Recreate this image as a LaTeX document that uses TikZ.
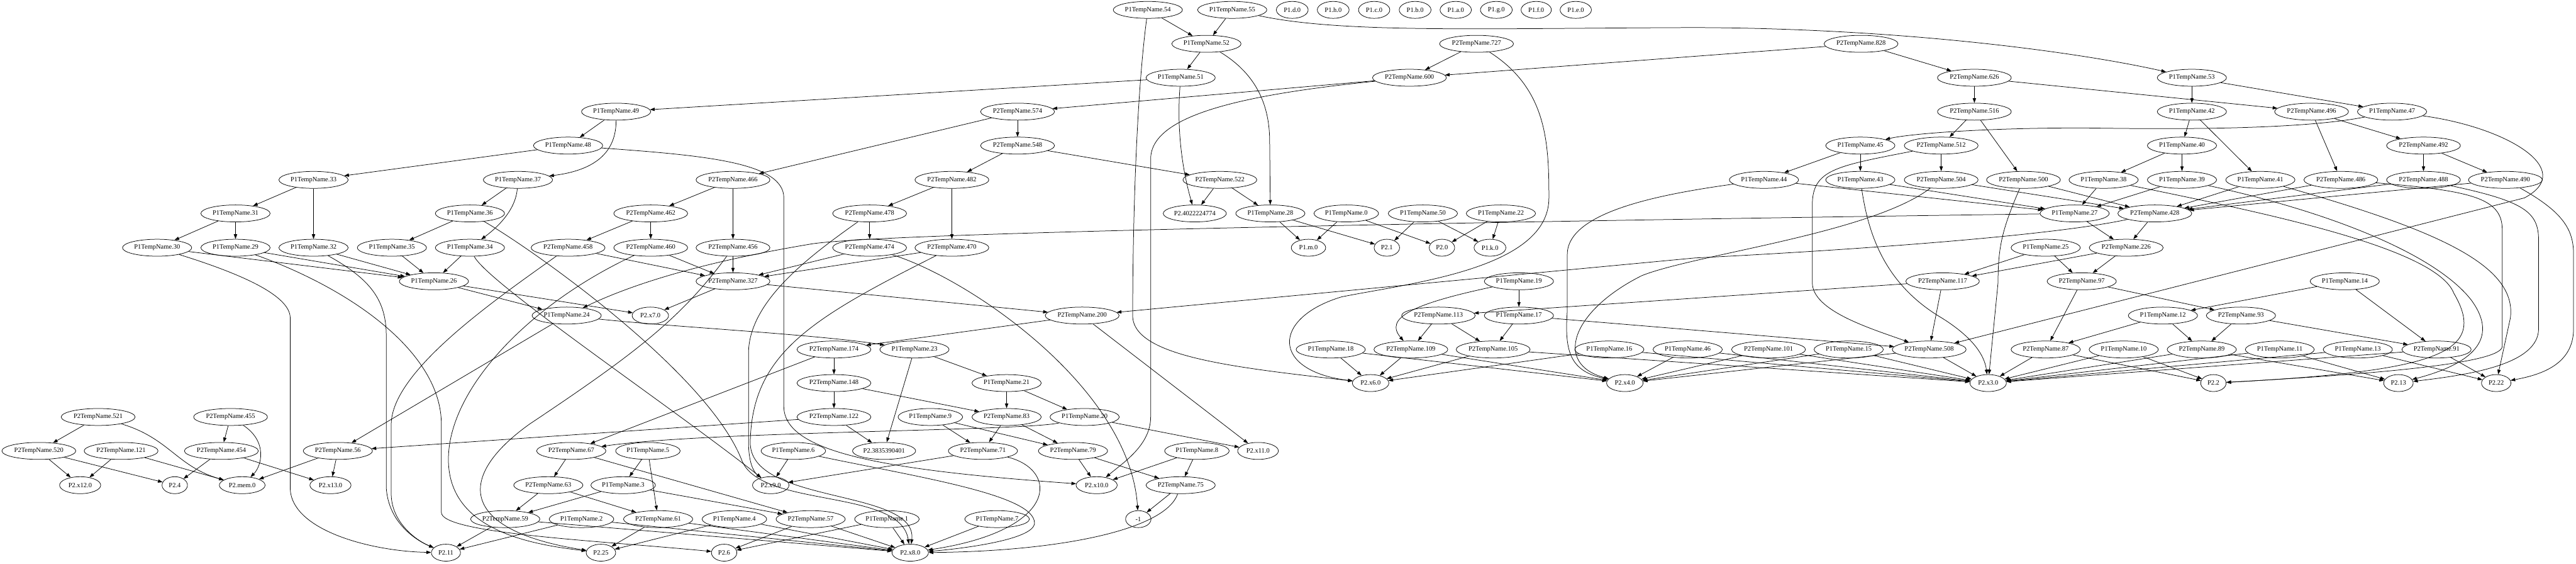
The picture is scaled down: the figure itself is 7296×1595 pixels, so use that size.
\documentclass[tikz,border=0pt]{standalone}
\usepackage{fontspec}
\setmainfont{Liberation Serif}
\usetikzlibrary{arrows.meta, shapes.geometric}
\newcommand{\namefont}{\fontsize{14}{16}\selectfont}
\tikzset{
  tnode/.style={draw, ellipse, minimum width=54pt, minimum height=36pt, inner xsep=3.3pt, inner ysep=0pt, font=\namefont},
  leaf/.style={tnode, inner xsep=6pt},
}
\begin{document}
\begin{tikzpicture}[x=0.75pt, y=-0.75pt, >={Triangle[length=10pt,width=7pt]}, line width=1pt, line join=bevel]
\useasboundingbox (0,0) rectangle (7296,1595);
%% rank 1
\node (t1_54) at (3251,28) [tnode] {P1TempName.54};
\node (t1_55) at (3490,28) [tnode] {P1TempName.55};
\node (p1_d) at (3660,28) [leaf] {P1.d.0};
\node (p1_h) at (3776,28) [leaf] {P1.h.0};
\node (p1_c) at (3892,28) [leaf] {P1.c.0};
\node (p1_b) at (4008,28) [leaf] {P1.b.0};
\node (p1_a) at (4123,28) [leaf] {P1.a.0};
\node (p1_g) at (4238,28) [leaf] {P1.g.0};
\node (p1_f) at (4351,28) [leaf] {P1.f.0};
\node (p1_e) at (4463,28) [leaf] {P1.e.0};
%% rank 2
\node (t1_52) at (3417,124) [tnode] {P1TempName.52};
\node (t2_727) at (4182,124) [tnode] {P2TempName.727};
\node (t2_828) at (5271,124) [tnode] {P2TempName.828};
%% rank 3
\node (t1_51) at (3344,220) [tnode] {P1TempName.51};
\node (t2_600) at (3992,220) [tnode] {P2TempName.600};
\node (t2_626) at (5592,220) [tnode] {P2TempName.626};
\node (t1_53) at (6208,220) [tnode] {P1TempName.53};
%% rank 4
\node (t1_49) at (1745,316) [tnode] {P1TempName.49};
\node (t2_574) at (2882,316) [tnode] {P2TempName.574};
\node (t2_516) at (5592,316) [tnode] {P2TempName.516};
\node (t1_42) at (6208,316) [tnode] {P1TempName.42};
\node (t2_496) at (6547,316) [tnode] {P2TempName.496};
\node (t1_47) at (6775,316) [tnode] {P1TempName.47};
%% rank 5
\node (t1_48) at (1609,412) [tnode] {P1TempName.48};
\node (t2_548) at (2882,412) [tnode] {P2TempName.548};
\node (t1_45) at (5269,412) [tnode] {P1TempName.45};
\node (t2_512) at (5498,412) [tnode] {P2TempName.512};
\node (t1_40) at (6180,412) [tnode] {P1TempName.40};
\node (t2_492) at (6864,412) [tnode] {P2TempName.492};
%% rank 6
\node (t1_33) at (888,509) [tnode] {P1TempName.33};
\node (t1_37) at (1467,509) [tnode] {P1TempName.37};
\node (t2_466) at (2076,509) [tnode] {P2TempName.466};
\node (t2_482) at (2696,509) [tnode] {P2TempName.482};
\node (t2_522) at (3455,509) [tnode] {P2TempName.522};
\node (t1_44) at (4996,509) [tnode] {P1TempName.44};
\node (t1_43) at (5269,509) [tnode] {P1TempName.43};
\node (t2_504) at (5498,509) [tnode] {P2TempName.504};
\node (t2_500) at (5731,509) [tnode] {P2TempName.500};
\node (t1_38) at (5958,509) [tnode] {P1TempName.38};
\node (t1_39) at (6180,509) [tnode] {P1TempName.39};
\node (t1_41) at (6402,509) [tnode] {P1TempName.41};
\node (t2_486) at (6630,509) [tnode] {P2TempName.486};
\node (t2_488) at (6864,509) [tnode] {P2TempName.488};
\node (t2_490) at (7096,509) [tnode] {P2TempName.490};
%% rank 7
\node (t1_31) at (667,604) [tnode] {P1TempName.31};
\node (t1_36) at (1331,604) [tnode] {P1TempName.36};
\node (t2_462) at (1843,604) [tnode] {P2TempName.462};
\node (t2_478) at (2463,604) [tnode] {P2TempName.478};
\node (p2_4022) at (3384,604) [tnode] {P2.4022224774};
\node (t1_28) at (3598,604) [tnode] {P1TempName.28};
\node (t1_0) at (3813,604) [tnode] {P1TempName.0};
\node (t1_50) at (4030,604) [tnode] {P1TempName.50};
\node (t1_22) at (4251,604) [tnode] {P1TempName.22};
\node (t1_27) at (5876,604) [tnode] {P1TempName.27};
\node (t2_428) at (6103,604) [tnode] {P2TempName.428};
%% rank 8
\node (t1_30) at (445,701) [tnode] {P1TempName.30};
\node (t1_29) at (667,701) [tnode] {P1TempName.29};
\node (t1_32) at (888,701) [tnode] {P1TempName.32};
\node (t1_35) at (1110,701) [tnode] {P1TempName.35};
\node (t1_34) at (1331,701) [tnode] {P1TempName.34};
\node (t2_458) at (1609,701) [tnode] {P2TempName.458};
\node (t2_460) at (1843,701) [tnode] {P2TempName.460};
\node (t2_456) at (2076,701) [tnode] {P2TempName.456};
\node (t2_474) at (2463,701) [tnode] {P2TempName.474};
\node (t2_470) at (2696,701) [tnode] {P2TempName.470};
\node (p1_m) at (3706,701) [leaf] {P1.m.0};
\node (p2_1) at (3928,701) [leaf] {P2.1};
\node (p2_0) at (4084,701) [leaf] {P2.0};
\node (p1_k) at (4220,701) [leaf] {P1.k.0};
\node (t1_25) at (5794,701) [tnode] {P1TempName.25};
\node (t2_226) at (6022,701) [tnode] {P2TempName.226};
%% rank 9
\node (t1_26) at (1229,796) [tnode] {P1TempName.26};
\node (t2_327) at (2076,796) [tnode] {P2TempName.327};
\node (t1_19) at (4302,796) [tnode] {P1TempName.19};
\node (t2_117) at (5502,796) [tnode] {P2TempName.117};
\node (t2_97) at (5896,796) [tnode] {P2TempName.97};
\node (t1_14) at (6641,796) [tnode] {P1TempName.14};
%% rank 10
\node (t1_24) at (1605,893) [tnode] {P1TempName.24};
\node (p2_x7) at (1842,893) [leaf] {P2.x7.0};
\node (t2_200) at (3065,893) [tnode] {P2TempName.200};
\node (t2_113) at (4074,893) [tnode] {P2TempName.113};
\node (t1_17) at (4302,893) [tnode] {P1TempName.17};
\node (t1_12) at (6126,893) [tnode] {P1TempName.12};
\node (t2_93) at (6347,893) [tnode] {P2TempName.93};
%% rank 11
\node (t2_174) at (2362,989) [tnode] {P2TempName.174};
\node (t1_23) at (2590,989) [tnode] {P1TempName.23};
\node (t1_18) at (3769,989) [tnode] {P1TempName.18};
\node (t2_109) at (3996,989) [tnode] {P2TempName.109};
\node (t2_105) at (4229,989) [tnode] {P2TempName.105};
\node (t1_16) at (4558,989) [tnode] {P1TempName.16};
\node (t1_46) at (4780,989) [tnode] {P1TempName.46};
\node (t2_101) at (5009,989) [tnode] {P2TempName.101};
\node (t1_15) at (5236,989) [tnode] {P1TempName.15};
\node (t2_508) at (5464,989) [tnode] {P2TempName.508};
\node (t2_87) at (5794,989) [tnode] {P2TempName.87};
\node (t1_10) at (6015,989) [tnode] {P1TempName.10};
\node (t2_89) at (6236,989) [tnode] {P2TempName.89};
\node (t1_11) at (6457,989) [tnode] {P1TempName.11};
\node (t1_13) at (6678,989) [tnode] {P1TempName.13};
\node (t2_91) at (6901,989) [tnode] {P2TempName.91};
%% rank 12
\node (t2_148) at (2362,1084) [tnode] {P2TempName.148};
\node (t1_21) at (2851,1084) [tnode] {P1TempName.21};
\node (p2_x6) at (3882,1084) [leaf] {P2.x6.0};
\node (p2_x4) at (4602,1084) [leaf] {P2.x4.0};
\node (p2_x3) at (5631,1084) [leaf] {P2.x3.0};
\node (p2_2) at (6269,1084) [leaf] {P2.2};
\node (p2_13) at (6793,1084) [leaf] {P2.13};
\node (p2_22) at (7070,1084) [leaf] {P2.22};
%% rank 13
\node (t2_521) at (278,1180) [tnode] {P2TempName.521};
\node (t2_455) at (653,1180) [tnode] {P2TempName.455};
\node (t2_122) at (2362,1180) [tnode] {P2TempName.122};
\node (t1_9) at (2635,1180) [tnode] {P1TempName.9};
\node (t2_83) at (2851,1180) [tnode] {P2TempName.83};
\node (t1_20) at (3072,1180) [tnode] {P1TempName.20};
%% rank 14
\node (t2_520) at (110,1276) [tnode] {P2TempName.520};
\node (t2_121) at (343,1276) [tnode] {P2TempName.121};
\node (t2_454) at (627,1276) [tnode] {P2TempName.454};
\node (t2_56) at (957,1276) [tnode] {P2TempName.56};
\node (t2_67) at (1618,1276) [tnode] {P2TempName.67};
\node (t1_5) at (1835,1276) [tnode] {P1TempName.5};
\node (t1_6) at (2247,1276) [tnode] {P1TempName.6};
\node (p2_3835) at (2504,1276) [tnode] {P2.3835390401};
\node (t2_71) at (2784,1276) [tnode] {P2TempName.71};
\node (t2_79) at (3039,1276) [tnode] {P2TempName.79};
\node (t1_8) at (3390,1276) [tnode] {P1TempName.8};
\node (p2_x11) at (3563,1276) [leaf] {P2.x11.0};
%% rank 15
\node (p2_x12) at (227,1373) [leaf] {P2.x12.0};
\node (p2_4) at (495,1373) [leaf] {P2.4};
\node (p2_mem) at (686,1373) [leaf] {P2.mem.0};
\node (p2_x13) at (936,1373) [leaf] {P2.x13.0};
\node (t2_63) at (1553,1373) [tnode] {P2TempName.63};
\node (t1_3) at (1765,1373) [tnode] {P1TempName.3};
\node (p2_x9) at (2183,1373) [leaf] {P2.x9.0};
\node (p2_x10) at (3106,1373) [leaf] {P2.x10.0};
\node (t2_75) at (3344,1373) [tnode] {P2TempName.75};
%% rank 16
\node (t2_59) at (1431,1469) [tnode] {P2TempName.59};
\node (t1_2) at (1647,1469) [tnode] {P1TempName.2};
\node (t2_61) at (1864,1469) [tnode] {P2TempName.61};
\node (t1_4) at (2080,1469) [tnode] {P1TempName.4};
\node (t2_57) at (2296,1469) [tnode] {P2TempName.57};
\node (t1_1) at (2512,1469) [tnode] {P1TempName.1};
\node (t1_7) at (2824,1469) [tnode] {P1TempName.7};
\node (m1) at (3224,1469) [leaf] {-1};
%% rank 17
\node (p2_11) at (1263,1564) [leaf] {P2.11};
\node (p2_25) at (1702,1564) [leaf] {P2.25};
\node (p2_6) at (2051,1564) [leaf] {P2.6};
\node (p2_x8) at (2578,1564) [leaf] {P2.x8.0};
%% edges
\draw [->] (t1_54) -- (t1_52);
\draw [->] (t1_54) .. controls (3215,300) and (3208,700) .. (3208,893) .. controls (3208,1010) and (3500,1040) .. (p2_x6);
\draw [->] (t1_55) -- (t1_52);
\draw [->] (t1_55) .. controls (3800,95) and (4200,80) .. (4800,78) .. controls (5400,80) and (5900,150) .. (t1_53);
\draw [->] (t1_52) -- (t1_51);
\draw [->] (t1_52) .. controls (3560,210) and (3596,300) .. (3596,400) -- (t1_28);
\draw [->] (t1_51) -- (t1_49);
\draw [->] (t1_51) .. controls (3330,400) and (3360,520) .. (p2_4022);
\draw [->] (t2_727) -- (t2_600);
\draw [->] (t2_727) .. controls (4380,250) and (4387,400) .. (4387,560) .. controls (4387,760) and (4000,800) .. (3800,840) .. controls (3600,900) and (3600,1050) .. (p2_x6);
\draw [->] (t2_828) -- (t2_600);
\draw [->] (t2_828) -- (t2_626);
\draw [->] (t2_600) -- (t2_574);
\draw [->] (t2_600) .. controls (3500,270) and (3259,330) .. (3259,450) -- (3259,1180) .. controls (3259,1260) and (3180,1310) .. (p2_x10);
\draw [->] (t2_626) -- (t2_516);
\draw [->] (t2_626) -- (t2_496);
\draw [->] (t1_53) -- (t1_42);
\draw [->] (t1_53) -- (t1_47);
\draw [->] (t1_49) -- (t1_48);
\draw [->] (t1_49) .. controls (1745,420) and (1700,480) .. (t1_37);
\draw [->] (t2_574) -- (t2_548);
\draw [->] (t2_574) -- (t2_466);
\draw [->] (t2_516) -- (t2_512);
\draw [->] (t2_516) -- (t2_500);
\draw [->] (t1_42) -- (t1_40);
\draw [->] (t1_42) -- (t1_41);
\draw [->] (t2_496) -- (t2_486);
\draw [->] (t2_496) -- (t2_492);
\draw [->] (t1_47) .. controls (6500,370) and (6100,365) .. (5900,362) .. controls (5600,362) and (5400,380) .. (t1_45);
\draw [->] (t1_47) .. controls (7100,360) and (7300,480) .. (7150,560) -- (t2_508);
\draw [->] (t1_48) -- (t1_33);
\draw [->] (t1_48) .. controls (2000,440) and (2220,460) .. (2220,560) -- (2220,1150) .. controls (2220,1280) and (2500,1330) .. (p2_x10);
\draw [->] (t2_548) -- (t2_482);
\draw [->] (t2_548) -- (t2_522);
\draw [->] (t1_45) -- (t1_44);
\draw [->] (t1_45) -- (t1_43);
\draw [->] (t2_512) -- (t2_504);
\draw [->] (t2_512) .. controls (5200,470) and (5133,480) .. (5133,580) -- (5133,800) .. controls (5133,880) and (5300,930) .. (t2_508);
\draw [->] (t1_40) -- (t1_38);
\draw [->] (t1_40) -- (t1_39);
\draw [->] (t2_492) -- (t2_488);
\draw [->] (t2_492) -- (t2_490);
\draw [->] (t1_33) -- (t1_31);
\draw [->] (t1_33) -- (t1_32);
\draw [->] (t1_37) -- (t1_36);
\draw [->] (t1_37) .. controls (1460,600) and (1400,650) .. (t1_34);
\draw [->] (t2_466) -- (t2_462);
\draw [->] (t2_466) -- (t2_456);
\draw [->] (t2_482) -- (t2_478);
\draw [->] (t2_482) -- (t2_470);
\draw [->] (t2_522) -- (p2_4022);
\draw [->] (t2_522) -- (t1_28);
\draw [->] (t1_44) -- (t1_27);
\draw [->] (t1_44) .. controls (4700,550) and (4439,600) .. (4439,720) -- (4439,880) .. controls (4430,1000) and (4450,1050) .. (p2_x4);
\draw [->] (t1_43) -- (t1_27);
\draw [->] (t1_43) .. controls (5290,650) and (5330,800) .. (5500,900) .. controls (5580,950) and (5620,1000) .. (p2_x3);
\draw [->] (t2_504) -- (t2_428);
\draw [->] (t2_504) .. controls (5300,660) and (4800,720) .. (4650,780) .. controls (4450,880) and (4400,1030) .. (p2_x4);
\draw [->] (t2_500) -- (t2_428);
\draw [->] (t2_500) .. controls (5670,650) and (5659,700) .. (5659,800) -- (p2_x3);
\draw [->] (t1_38) -- (t1_27);
\draw [->] (t1_38) .. controls (6400,600) and (6900,700) .. (6950,830) .. controls (7050,1000) and (6900,1050) .. (p2_2);
\draw [->] (t1_39) -- (t1_27);
\draw [->] (t1_39) .. controls (6600,600) and (6900,720) .. (7000,850) .. controls (7080,960) and (7000,1030) .. (p2_13);
\draw [->] (t1_41) -- (t2_428);
\draw [->] (t1_41) .. controls (6900,650) and (7130,750) .. (7110,900) -- (p2_22);
\draw [->] (t2_486) -- (t2_428);
\draw [->] (t2_486) .. controls (7000,540) and (7087,560) .. (7087,650) -- (7087,980) .. controls (7087,1030) and (6700,1060) .. (p2_2);
\draw [->] (t2_488) -- (t2_428);
\draw [->] (t2_488) .. controls (7150,570) and (7190,600) .. (7190,680) -- (7190,930) .. controls (7190,1030) and (7000,1060) .. (p2_13);
\draw [->] (t2_490) -- (t2_428);
\draw [->] (t2_490) .. controls (7260,600) and (7289,650) .. (7289,720) -- (7289,930) .. controls (7289,1030) and (7200,1060) .. (p2_22);
\draw [->] (t1_31) -- (t1_30);
\draw [->] (t1_31) -- (t1_29);
\draw [->] (t1_36) -- (t1_35);
\draw [->] (t1_36) .. controls (1500,700) and (2000,1050) .. (2100,1300) .. controls (2150,1440) and (2550,1380) .. (p2_x8);
\draw [->] (t2_462) -- (t2_458);
\draw [->] (t2_462) -- (t2_460);
\draw [->] (t2_478) -- (t2_474);
\draw [->] (t2_478) .. controls (2300,720) and (2120,850) .. (2120,1000) -- (2120,1250) .. controls (2120,1320) and (2140,1340) .. (p2_x9);
\draw [->] (t1_28) -- (p1_m);
\draw [->] (t1_28) -- (p2_1);
\draw [->] (t1_0) -- (p1_m);
\draw [->] (t1_0) -- (p2_0);
\draw [->] (t1_50) -- (p2_1);
\draw [->] (t1_50) -- (p1_k);
\draw [->] (t1_22) -- (p2_0);
\draw [->] (t1_22) -- (p1_k);
\draw [->] (t1_27) -- (t2_226);
\draw [->] (t1_27) .. controls (4000,630) and (2500,660) .. (2300,690) .. controls (2000,740) and (1800,800) .. (t1_24);
\draw [->] (t2_428) -- (t2_226);
\draw [->] (t2_428) .. controls (5800,670) and (5200,710) .. (4800,730) -- (t2_200);
\draw [->] (t1_30) -- (t1_26);
\draw [->] (t1_30) .. controls (700,780) and (822,840) .. (822,900) -- (822,1380) .. controls (822,1500) and (1050,1560) .. (p2_11);
\draw [->] (t1_29) -- (t1_26);
\draw [->] (t1_29) .. controls (1000,820) and (1250,1000) .. (1250,1200) -- (1250,1450) .. controls (1250,1510) and (1700,1530) .. (p2_6);
\draw [->] (t1_32) -- (t1_26);
\draw [->] (t1_32) .. controls (1050,790) and (1094,850) .. (1094,950) -- (1094,1380) .. controls (1100,1480) and (1180,1530) .. (p2_11);
\draw [->] (t1_35) -- (t1_26);
\draw [->] (t1_34) -- (t1_26);
\draw [->] (t1_34) .. controls (1380,800) and (1900,1150) .. (p2_x9);
\draw [->] (t2_458) -- (t2_327);
\draw [->] (t2_458) .. controls (1400,850) and (1110,1050) .. (1108,1200) -- (1108,1400) .. controls (1110,1480) and (1180,1530) .. (p2_11);
\draw [->] (t2_460) -- (t2_327);
\draw [->] (t2_460) .. controls (1500,860) and (1270,1100) .. (1270,1300) .. controls (1270,1500) and (1500,1540) .. (p2_25);
\draw [->] (t2_456) -- (t2_327);
\draw [->] (t2_456) .. controls (1930,900) and (1800,1000) .. (1500,1200) .. controls (1290,1350) and (1300,1500) .. (p2_25);
\draw [->] (t2_474) -- (t2_327);
\draw [->] (t2_474) .. controls (2750,790) and (3200,1100) .. (m1);
\draw [->] (t2_470) -- (t2_327);
\draw [->] (t2_470) .. controls (2300,900) and (2130,1000) .. (2125,1250) .. controls (2120,1430) and (2600,1380) .. (p2_x8);
\draw [->] (t1_25) -- (t2_117);
\draw [->] (t1_25) -- (t2_97);
\draw [->] (t2_226) -- (t2_117);
\draw [->] (t2_226) -- (t2_97);
\draw [->] (t1_26) -- (t1_24);
\draw [->] (t1_26) -- (p2_x7);
\draw [->] (t2_327) -- (p2_x7);
\draw [->] (t2_327) -- (t2_200);
\draw [->] (t1_19) -- (t1_17);
\draw [->] (t1_19) .. controls (4000,860) and (3920,900) .. (t2_109);
\draw [->] (t2_117) -- (t2_508);
\draw [->] (t2_117) -- (t2_113);
\draw [->] (t2_97) -- (t2_87);
\draw [->] (t2_97) -- (t2_93);
\draw [->] (t1_14) -- (t1_12);
\draw [->] (t1_14) -- (t2_91);
\draw [->] (t1_24) -- (t2_56);
\draw [->] (t1_24) .. controls (1900,925) and (2300,945) .. (t1_23);
\draw [->] (t2_200) -- (t2_174);
\draw [->] (t2_200) -- (p2_x11);
\draw [->] (t2_113) -- (t2_109);
\draw [->] (t2_113) -- (t2_105);
\draw [->] (t1_17) -- (t2_105);
\draw [->] (t1_17) -- (t2_508);
\draw [->] (t1_12) -- (t2_89);
\draw [->] (t1_12) -- (t2_87);
\draw [->] (t2_93) -- (t2_89);
\draw [->] (t2_93) -- (t2_91);
\draw [->] (t2_174) -- (t2_148);
\draw [->] (t2_174) -- (t2_67);
\draw [->] (t1_23) -- (t1_21);
\draw [->] (t1_23) -- (p2_3835);
\draw [->] (t1_18) -- (p2_x6);
\draw [->] (t1_18) -- (p2_x4);
\draw [->] (t2_109) -- (p2_x6);
\draw [->] (t2_109) -- (p2_x4);
\draw [->] (t2_105) -- (p2_x6);
\draw [->] (t2_105) -- (p2_x3);
\draw [->] (t1_16) -- (p2_x6);
\draw [->] (t1_16) -- (p2_x3);
\draw [->] (t1_46) -- (p2_x4);
\draw [->] (t1_46) -- (p2_x3);
\draw [->] (t2_101) -- (p2_x4);
\draw [->] (t2_101) -- (p2_x3);
\draw [->] (t1_15) -- (p2_x4);
\draw [->] (t1_15) -- (p2_x3);
\draw [->] (t2_508) -- (p2_x4);
\draw [->] (t2_508) -- (p2_x3);
\draw [->] (t2_87) -- (p2_x3);
\draw [->] (t2_87) -- (p2_2);
\draw [->] (t1_10) -- (p2_x3);
\draw [->] (t1_10) -- (p2_2);
\draw [->] (t2_89) -- (p2_x3);
\draw [->] (t2_89) -- (p2_13);
\draw [->] (t1_11) -- (p2_x3);
\draw [->] (t1_11) -- (p2_13);
\draw [->] (t1_13) -- (p2_x3);
\draw [->] (t1_13) -- (p2_22);
\draw [->] (t2_91) -- (p2_x3);
\draw [->] (t2_91) -- (p2_22);
\draw [->] (t2_148) -- (t2_122);
\draw [->] (t2_148) -- (t2_83);
\draw [->] (t1_21) -- (t2_83);
\draw [->] (t1_21) -- (t1_20);
\draw [->] (t2_521) -- (t2_520);
\draw [->] (t2_521) .. controls (480,1240) and (500,1320) .. (p2_mem);
\draw [->] (t2_455) -- (t2_454);
\draw [->] (t2_455) .. controls (760,1250) and (740,1320) .. (p2_mem);
\draw [->] (t2_122) -- (p2_3835);
\draw [->] (t2_122) -- (t2_56);
\draw [->] (t1_9) -- (t2_71);
\draw [->] (t1_9) -- (t2_79);
\draw [->] (t2_83) -- (t2_71);
\draw [->] (t2_83) -- (t2_79);
\draw [->] (t1_20) .. controls (2900,1220) and (2000,1220) .. (t2_67);
\draw [->] (t1_20) -- (p2_x11);
\draw [->] (t2_520) -- (p2_x12);
\draw [->] (t2_520) -- (p2_4);
\draw [->] (t2_121) -- (p2_x12);
\draw [->] (t2_121) -- (p2_mem);
\draw [->] (t2_454) -- (p2_4);
\draw [->] (t2_454) -- (p2_x13);
\draw [->] (t2_56) -- (p2_mem);
\draw [->] (t2_56) -- (p2_x13);
\draw [->] (t2_67) -- (t2_63);
\draw [->] (t2_67) -- (t2_57);
\draw [->] (t1_5) -- (t1_3);
\draw [->] (t1_5) -- (t2_61);
\draw [->] (t1_6) -- (p2_x9);
\draw [->] (t1_6) .. controls (2600,1350) and (2930,1400) .. (2930,1480) .. controls (2930,1530) and (2700,1555) .. (p2_x8);
\draw [->] (t2_71) -- (p2_x9);
\draw [->] (t2_71) .. controls (3000,1330) and (3000,1500) .. (p2_x8);
\draw [->] (t2_79) -- (p2_x10);
\draw [->] (t2_79) -- (t2_75);
\draw [->] (t1_8) -- (p2_x10);
\draw [->] (t1_8) -- (t2_75);
\draw [->] (t2_63) -- (t2_59);
\draw [->] (t2_63) -- (t2_61);
\draw [->] (t1_3) -- (t2_59);
\draw [->] (t1_3) -- (t2_57);
\draw [->] (t2_75) -- (m1);
\draw [->] (t2_75) .. controls (3300,1500) and (3000,1560) .. (p2_x8);
\draw [->] (t2_59) -- (p2_11);
\draw [->] (t2_59) -- (p2_x8);
\draw [->] (t1_2) -- (p2_11);
\draw [->] (t1_2) -- (p2_x8);
\draw [->] (t2_61) -- (p2_25);
\draw [->] (t2_61) -- (p2_x8);
\draw [->] (t1_4) -- (p2_25);
\draw [->] (t1_4) -- (p2_x8);
\draw [->] (t2_57) -- (p2_6);
\draw [->] (t2_57) -- (p2_x8);
\draw [->] (t1_1) -- (p2_6);
\draw [->] (t1_1) -- (p2_x8);
\draw [->] (t1_7) -- (p2_x8);
%
\end{tikzpicture}
\end{document}
